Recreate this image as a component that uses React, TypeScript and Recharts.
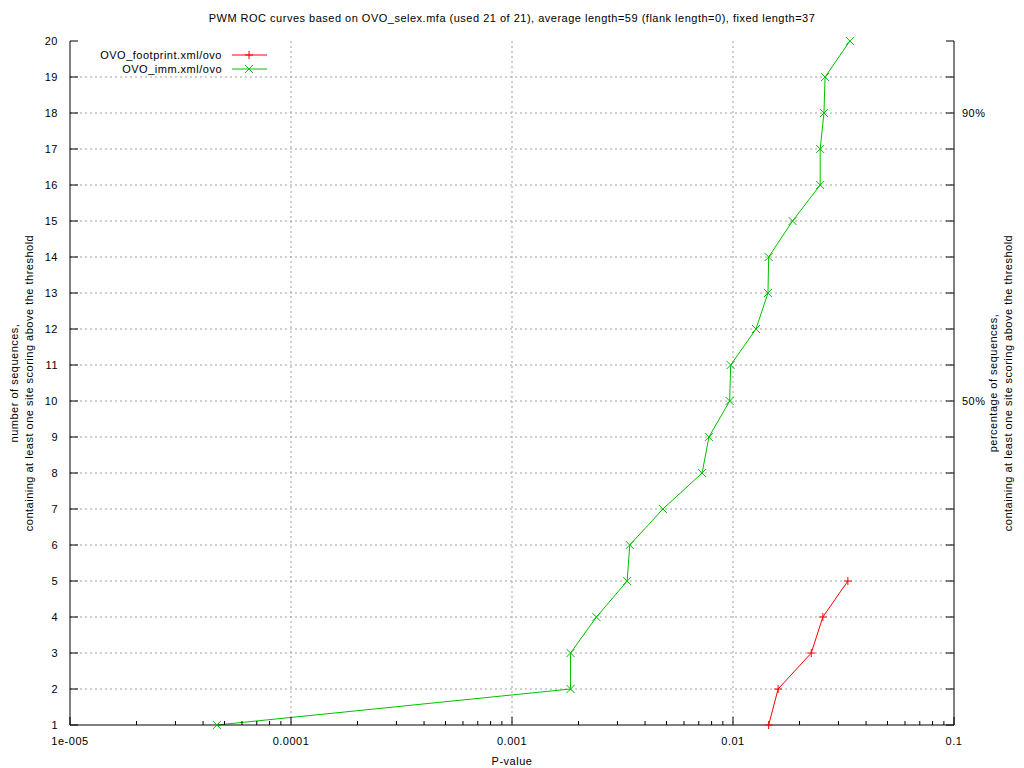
import type { FC, ReactNode } from 'react'
import { LineChart, Line, XAxis, YAxis, CartesianGrid, Legend } from 'recharts'

const CHART_WIDTH = 1024
const CHART_HEIGHT = 768
const FONT = "'Liberation Sans', Arial, Helvetica, sans-serif"
const RED = '#ff0000'
const GREEN = '#00c000'

const TITLE =
    'PWM ROC curves based on OVO_selex.mfa (used 21 of 21), average length=59 (flank length=0), fixed length=37'
const X_LABEL = 'P-value'
const LEFT_LABEL = [
    'number of sequences,',
    'containing at least one site scoring above the threshold'
]
const RIGHT_LABEL = [
    'percentage of sequences,',
    'containing at least one site scoring above the threshold'
]

const FOOTPRINT_NAME = 'OVO_footprint.xml/ovo'
const footprintCounts = [1, 2, 3, 4, 5]
const footprintPValues = [0.0145, 0.016, 0.0226, 0.0255, 0.0331]

const IMM_NAME = 'OVO_imm.xml/ovo'
const immCounts = [1, 2, 3, 4, 5, 6, 7, 8, 9, 10, 11, 12, 13, 14, 15, 16, 17, 18, 19, 20]
const immPValues = [
    0.0000462, 0.00184, 0.00184, 0.00241, 0.00332, 0.00341, 0.00482, 0.00725,
    0.00778, 0.00966, 0.00976, 0.0127, 0.0144, 0.0145, 0.0186, 0.0248, 0.0248,
    0.0258, 0.0261, 0.0338
]

const decadeTicks = [0.00001, 0.0001, 0.001, 0.01, 0.1]
const decadeLabels = ['1e-005', '0.0001', '0.001', '0.01', '0.1']
const minorMultipliers = [2, 3, 4, 5, 6, 7, 8, 9]
const countTicks = [1, 2, 3, 4, 5, 6, 7, 8, 9, 10, 11, 12, 13, 14, 15, 16, 17, 18, 19, 20]
const percentTicks = [10, 18]
const percentLabels = ['50%', '90%']

const minorTicks = decadeTicks
    .slice(0, -1)
    .flatMap((d) => minorMultipliers.map((m) => d * m))
const xTicks = [...decadeTicks, ...minorTicks]

const footprintData = footprintCounts.map((n, i) => ({ p: footprintPValues[i], n }))
const immData = immCounts.map((n, i) => ({ p: immPValues[i], n }))

const textStyle = { fontFamily: FONT, fontSize: 11, fill: '#000', letterSpacing: 0.5 }

const BottomTick = (props: any): ReactNode => {
    const { x, y, payload } = props
    const idx = decadeTicks.indexOf(payload.value)
    const major = idx >= 0
    return (
        <g>
            <line x1={x} x2={x} y1={y} y2={y - (major ? 8 : 4)} stroke='#000' />
            {major && (
                <text x={x} y={y + 20} textAnchor='middle' style={textStyle}>
                    {decadeLabels[idx]}
                </text>
            )}
        </g>
    )
}

const TopTick = (props: any): ReactNode => {
    const { x, y, payload } = props
    const major = decadeTicks.indexOf(payload.value) >= 0
    return <line x1={x} x2={x} y1={y} y2={y + (major ? 8 : 4)} stroke='#000' />
}

const LeftTick = (props: any): ReactNode => {
    const { x, y, payload } = props
    return (
        <g>
            <line x1={x} x2={x + 8} y1={y} y2={y} stroke='#000' />
            <text x={x - 12} y={y + 4} textAnchor='end' style={textStyle}>
                {payload.value}
            </text>
        </g>
    )
}

const RightTick = (props: any): ReactNode => {
    const { x, y, payload } = props
    const idx = percentTicks.indexOf(payload.value)
    return (
        <g>
            <line x1={x} x2={x - 8} y1={y} y2={y} stroke='#000' />
            {idx >= 0 && (
                <text x={x + 8} y={y + 4} textAnchor='start' style={textStyle}>
                    {percentLabels[idx]}
                </text>
            )}
        </g>
    )
}

const plusPath = (cx: number, cy: number): string =>
    `M${cx - 4},${cy}L${cx + 4},${cy}M${cx},${cy - 4}L${cx},${cy + 4}`
const crossPath = (cx: number, cy: number): string =>
    `M${cx - 4},${cy - 4}L${cx + 4},${cy + 4}M${cx - 4},${cy + 4}L${cx + 4},${cy - 4}`

const PlusDot = (props: any): ReactNode => (
    <path key={props.key} d={plusPath(props.cx, props.cy)} stroke={RED} fill='none' />
)
const CrossDot = (props: any): ReactNode => (
    <path key={props.key} d={crossPath(props.cx, props.cy)} stroke={GREEN} fill='none' />
)

const renderLegend = (props: any): ReactNode => {
    const payload = (props.payload || []).filter(
        (entry: any) => entry.value === FOOTPRINT_NAME || entry.value === IMM_NAME
    )
    return (
        <svg width={230} height={32}>
            {payload.map((entry: any, i: number) => {
                const y = 10 + i * 14
                const isFootprint = entry.value === FOOTPRINT_NAME
                return (
                    <g key={entry.value}>
                        <text x={162} y={y + 4} textAnchor='end' style={textStyle}>
                            {entry.value}
                        </text>
                        <line x1={172} x2={207} y1={y} y2={y} stroke={entry.color} />
                        <path
                            d={isFootprint ? plusPath(189, y) : crossPath(189, y)}
                            stroke={entry.color}
                            fill='none'
                        />
                    </g>
                )
            })}
        </svg>
    )
}

const App: FC = (): ReactNode => {
    return (
        <div
            style={{
                position: 'absolute',
                left: 0,
                top: 0,
                width: CHART_WIDTH,
                height: CHART_HEIGHT,
                background: '#fff'
            }}
        >
            <LineChart
                width={CHART_WIDTH}
                height={CHART_HEIGHT}
                margin={{ top: 41, right: 0, bottom: 0, left: 0 }}
            >
                <CartesianGrid
                    stroke='#a0a0a0'
                    strokeDasharray='2 3'
                    verticalValues={[0.0001, 0.001, 0.01]}
                    horizontalValues={countTicks.slice(1, -1)}
                />
                <XAxis
                    type='number'
                    dataKey='p'
                    scale='log'
                    domain={[0.00001, 0.1]}
                    ticks={xTicks}
                    interval={0}
                    height={43}
                    tick={BottomTick}
                    tickLine={false}
                    tickSize={0}
                    tickMargin={0}
                    axisLine={{ stroke: '#000' }}
                />
                <XAxis
                    xAxisId='top'
                    orientation='top'
                    type='number'
                    dataKey='p'
                    scale='log'
                    domain={[0.00001, 0.1]}
                    ticks={xTicks}
                    interval={0}
                    height={0}
                    tick={TopTick}
                    tickLine={false}
                    tickSize={0}
                    tickMargin={0}
                    axisLine={{ stroke: '#000' }}
                />
                <YAxis
                    type='number'
                    dataKey='n'
                    domain={[1, 20]}
                    ticks={countTicks}
                    interval={0}
                    width={70}
                    tick={LeftTick}
                    tickLine={false}
                    tickSize={0}
                    tickMargin={0}
                    axisLine={{ stroke: '#000' }}
                />
                <YAxis
                    yAxisId='right'
                    orientation='right'
                    type='number'
                    dataKey='n'
                    domain={[1, 20]}
                    ticks={countTicks}
                    interval={0}
                    width={70}
                    tick={RightTick}
                    tickLine={false}
                    tickSize={0}
                    tickMargin={0}
                    axisLine={{ stroke: '#000' }}
                />
                <Legend
                    layout='vertical'
                    align='center'
                    verticalAlign='middle'
                    wrapperStyle={{ left: 60, top: 45, width: 230 }}
                    content={renderLegend}
                />
                {/* invisible series so the mirrored top/right axes get drawn */}
                <Line
                    xAxisId='top'
                    yAxisId='right'
                    data={immData}
                    dataKey='n'
                    stroke='none'
                    dot={false}
                    activeDot={false}
                    legendType='none'
                    isAnimationActive={false}
                />
                <Line
                    name={FOOTPRINT_NAME}
                    data={footprintData}
                    dataKey='n'
                    stroke={RED}
                    strokeWidth={1}
                    dot={PlusDot}
                    activeDot={false}
                    isAnimationActive={false}
                />
                <Line
                    name={IMM_NAME}
                    data={immData}
                    dataKey='n'
                    stroke={GREEN}
                    strokeWidth={1}
                    dot={CrossDot}
                    activeDot={false}
                    isAnimationActive={false}
                />
            </LineChart>
            <svg
                width={CHART_WIDTH}
                height={CHART_HEIGHT}
                style={{ position: 'absolute', left: 0, top: 0, pointerEvents: 'none' }}
            >
                <text x={512} y={22} textAnchor='middle' style={textStyle}>
                    {TITLE}
                </text>
                <text x={512} y={765} textAnchor='middle' style={textStyle}>
                    {X_LABEL}
                </text>
                {LEFT_LABEL.map((line, i) => (
                    <text
                        key={line}
                        transform={`translate(${18 + i * 15},383) rotate(-90)`}
                        textAnchor='middle'
                        style={textStyle}
                    >
                        {line}
                    </text>
                ))}
                {RIGHT_LABEL.map((line, i) => (
                    <text
                        key={line}
                        transform={`translate(${997 + i * 15},383) rotate(-90)`}
                        textAnchor='middle'
                        style={textStyle}
                    >
                        {line}
                    </text>
                ))}
            </svg>
        </div>
    )
}

export default App
